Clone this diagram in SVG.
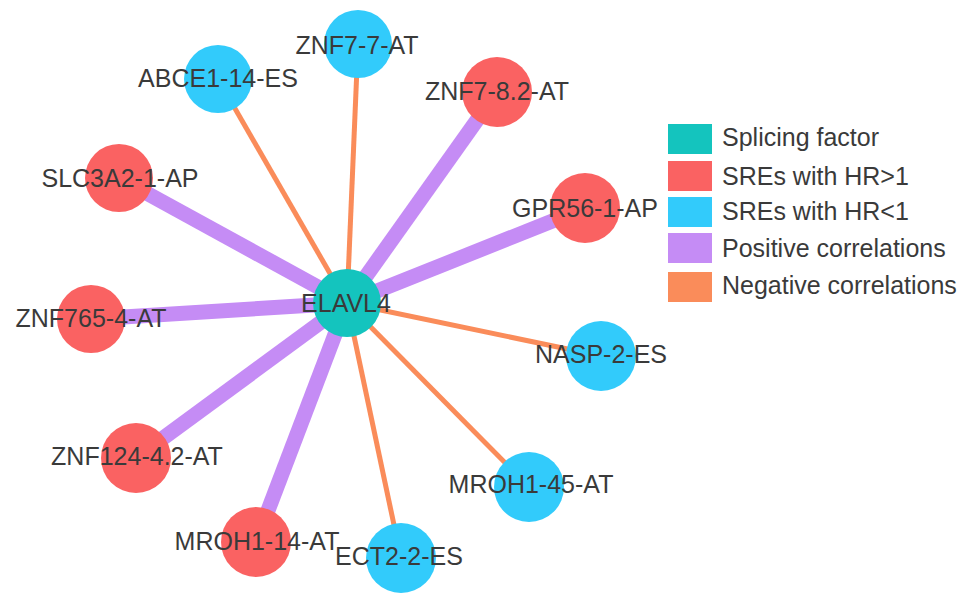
<svg xmlns="http://www.w3.org/2000/svg" width="969" height="605" viewBox="0 0 969 605">
<style>
.pos{stroke:#C58CF5;stroke-width:15;stroke-linecap:butt}
.neg{stroke:#FA8C5A;stroke-width:5;stroke-linecap:butt}
.sf{fill:#14C4BE}
.up{fill:#FA6262}
.dn{fill:#32CBFB}
text{font-family:"Liberation Sans",Arial,sans-serif;font-size:25px;fill:#3a3a3a}
.lbl{text-anchor:middle}
</style>
<rect width="969" height="605" fill="#ffffff"/>
<g id="connectors">
<line class="neg" x1="347" y1="303" x2="218" y2="79"/>
<line class="neg" x1="347" y1="303" x2="358" y2="44"/>
<line class="pos" x1="347" y1="303" x2="497" y2="92"/>
<line class="pos" x1="347" y1="303" x2="119" y2="178"/>
<line class="pos" x1="347" y1="303" x2="585" y2="208"/>
<line class="pos" x1="347" y1="303" x2="91" y2="319"/>
<line class="neg" x1="347" y1="303" x2="601" y2="356"/>
<line class="pos" x1="347" y1="303" x2="136" y2="458"/>
<line class="neg" x1="347" y1="303" x2="529" y2="487"/>
<line class="pos" x1="347" y1="303" x2="256" y2="542"/>
<line class="neg" x1="347" y1="303" x2="401" y2="558"/>
</g>
<g id="node-ZNF7-7-AT"><circle class="dn" cx="358" cy="44" r="34"/><text class="lbl" x="357" y="54">ZNF7-7-AT</text></g>
<g id="node-ABCE1-14-ES"><circle class="dn" cx="218" cy="79" r="34"/><text class="lbl" x="218" y="87">ABCE1-14-ES</text></g>
<g id="node-ZNF7-8.2-AT"><circle class="up" cx="497" cy="92" r="35"/><text class="lbl" x="497" y="100">ZNF7-8.2-AT</text></g>
<g id="node-SLC3A2-1-AP"><circle class="up" cx="119" cy="178" r="34"/><text class="lbl" x="120" y="187">SLC3A2-1-AP</text></g>
<g id="node-GPR56-1-AP"><circle class="up" cx="585" cy="208" r="35"/><text class="lbl" x="585" y="217">GPR56-1-AP</text></g>
<g id="node-ZNF765-4-AT"><circle class="up" cx="91" cy="319" r="34"/><text class="lbl" x="91" y="327">ZNF765-4-AT</text></g>
<g id="node-NASP-2-ES"><circle class="dn" cx="601" cy="356" r="35"/><text class="lbl" x="601" y="363">NASP-2-ES</text></g>
<g id="node-ZNF124-4.2-AT"><circle class="up" cx="136" cy="458" r="35"/><text class="lbl" x="137" y="465">ZNF124-4.2-AT</text></g>
<g id="node-MROH1-45-AT"><circle class="dn" cx="529" cy="487" r="35"/><text class="lbl" x="531" y="493">MROH1-45-AT</text></g>
<g id="node-MROH1-14-AT"><circle class="up" cx="256" cy="542" r="35"/><text class="lbl" x="257" y="550">MROH1-14-AT</text></g>
<g id="node-ECT2-2-ES"><circle class="dn" cx="401" cy="558" r="35"/><text class="lbl" x="399" y="565">ECT2-2-ES</text></g>
<g id="node-ELAVL4"><circle class="sf" cx="347" cy="303" r="34"/><text class="lbl" x="346" y="312">ELAVL4</text></g>
<g id="legend">
<rect x="668" y="124" width="44" height="30" fill="#14C4BE"/>
<rect x="668" y="161" width="44" height="30" fill="#FA6262"/>
<rect x="668" y="197" width="44" height="30" fill="#32CBFB"/>
<rect x="668" y="233" width="44" height="30" fill="#C58CF5"/>
<rect x="668" y="272" width="44" height="30" fill="#FA8C5A"/>
<text x="722" y="146">Splicing factor</text>
<text x="722" y="185">SREs with HR&gt;1</text>
<text x="722" y="220">SREs with HR&lt;1</text>
<text x="722" y="257">Positive correlations</text>
<text x="722" y="294">Negative correlations</text>
</g>
</svg>
